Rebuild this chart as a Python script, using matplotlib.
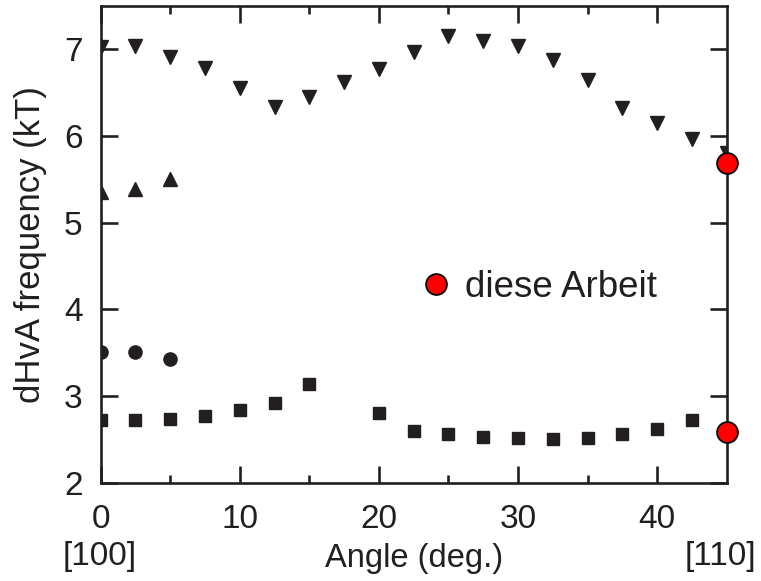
import matplotlib.pyplot as plt

plt.rcParams['font.family'] = ['Liberation Sans', 'DejaVu Sans']

INK = '#231f20'

# down triangles: upper branch
angle_down = [0, 2.5, 5, 7.5, 10, 12.5, 15, 17.5, 20, 22.5, 25, 27.5, 30, 32.5,
              35, 37.5, 40, 42.5, 45]
freq_down = [7.03, 7.04, 6.91, 6.78, 6.55, 6.33, 6.45, 6.62, 6.77, 6.97, 7.15,
             7.10, 7.04, 6.88, 6.65, 6.32, 6.15, 5.97, 5.80]

# up triangles
angle_up = [0, 2.5, 5]
freq_up = [5.36, 5.39, 5.50]

# filled circles
angle_circ = [0, 2.5, 5]
freq_circ = [3.51, 3.51, 3.43]

# squares: lower branch
angle_sq = [0, 2.5, 5, 7.5, 10, 12.5, 15, 20, 22.5, 25, 27.5, 30, 32.5, 35,
            37.5, 40, 42.5]
freq_sq = [2.72, 2.72, 2.74, 2.77, 2.84, 2.92, 3.14, 2.81, 2.60, 2.56, 2.53,
           2.52, 2.50, 2.52, 2.56, 2.62, 2.73]

# this work
angle_this = [45, 45]
freq_this = [5.69, 2.59]

fig = plt.figure(figsize=(7.61, 5.81), dpi=100)
ax = fig.add_axes([0.1323, 0.169, 0.8227, 0.8207])

ax.plot(angle_down, freq_down, 'v', color=INK, ms=10.5, ls='none')
ax.plot(angle_up, freq_up, '^', color=INK, ms=10.5, ls='none')
ax.plot(angle_circ, freq_circ, 'o', color=INK, ms=9.5, ls='none')
ax.plot(angle_sq, freq_sq, 's', color=INK, ms=8.5, ls='none')
ax.plot(angle_this, freq_this, 'o', color='#ff0000', mec='black', mew=1.3,
        ms=15, ls='none', clip_on=False, zorder=5, label='diese Arbeit')

ax.set_xlim(0, 45)
ax.set_ylim(2, 7.5)
ax.set_xticks([0, 10, 20, 30, 40])
ax.set_xticks([5, 15, 25, 35], minor=True)
ax.set_yticks([2, 3, 4, 5, 6, 7])

for side in ax.spines.values():
    side.set_linewidth(1.9)
    side.set_color(INK)
ax.tick_params(which='both', direction='in', top=True, right=True,
               width=1.9, color=INK, labelsize=24, labelcolor=INK)
ax.tick_params(which='major', length=12)
ax.tick_params(which='minor', length=6)
ax.tick_params(axis='x', pad=15)
ax.tick_params(axis='y', pad=13)

ax.set_xlabel('Angle (deg.)', fontsize=23.5, color=INK, labelpad=6)
ax.set_ylabel('dHvA frequency (kT)', fontsize=25, color=INK, labelpad=12)

fig.text(100 / 761, 1 - 557 / 581, '[100]', fontsize=24, color=INK,
         ha='center', va='center')
fig.text(720 / 761, 1 - 557 / 581, '[110]', fontsize=24, color=INK,
         ha='center', va='center')

ax.legend(loc='center left', bbox_to_anchor=(0.5085, 0.4105), frameon=False,
          fontsize=26.5, handlelength=0.9, handletextpad=0.35, borderpad=0,
          borderaxespad=0, numpoints=1, labelcolor=INK)

fig.savefig('out.png', dpi=100)
